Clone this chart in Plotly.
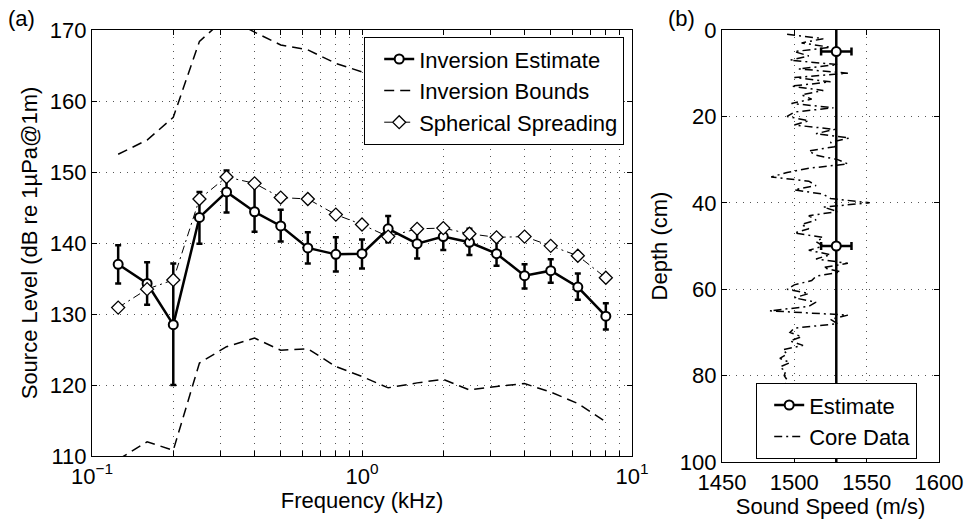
import plotly.graph_objects as go

# ---------------- data: panel (a) ----------------
freq_khz = [0.125, 0.16, 0.2, 0.25, 0.315, 0.4, 0.5, 0.63, 0.8, 1.0,
            1.25, 1.6, 2.0, 2.5, 3.15, 4.0, 5.0, 6.3, 8.0]
est_level = [137.0, 134.3, 128.5, 143.6, 147.2, 144.4, 142.4, 139.3, 138.4, 138.5,
             142.0, 139.9, 140.9, 140.1, 138.5, 135.4, 136.1, 133.8, 129.7]
est_upper = [139.7, 137.3, 137.1, 147.2, 150.2, 148.4, 144.7, 141.5, 140.8, 140.5,
             143.8, 142.0, 142.5, 142.0, 140.4, 137.0, 137.7, 135.7, 131.5]
est_lower = [134.3, 131.3, 120.0, 139.9, 144.3, 141.6, 140.2, 137.1, 136.0, 136.4,
             140.1, 137.8, 139.0, 138.3, 136.8, 133.6, 134.4, 132.0, 127.8]
spherical = [130.9, 133.5, 134.8, 146.2, 149.3, 148.4, 146.4, 146.2, 144.0, 142.6,
             140.9, 142.0, 142.1, 141.3, 140.8, 140.9, 139.6, 138.2, 135.1]
bound_upper = [152.5, 154.5, 157.7, 168.4, 171.8, 169.7, 167.9, 167.2, 165.3, 164.1,
               163.5, 163.0, 162.5, 161.8, 161.0, 160.0, 158.8, 157.5, 156.0]
bound_lower = [109.5, 112.0, 110.8, 123.1, 125.4, 126.6, 124.9, 125.1, 122.6, 121.2,
               119.6, 120.3, 120.8, 119.3, 119.8, 120.2, 119.0, 117.4, 114.8]

# ---------------- data: panel (b) ----------------
est_speed = 1529
est_speed_err = 10.5
est_line_depth = [0, 100]
est_marker_depth = [5, 50]
core_depth = list(range(1, 83))
core_speed = [1495, 1520, 1505, 1525, 1500, 1510, 1497, 1530, 1503, 1537,
              1500, 1525, 1498, 1520, 1505, 1512, 1498, 1527, 1500, 1495,
              1510, 1500, 1528, 1515, 1538, 1525, 1528, 1510, 1515, 1530,
              1537, 1510, 1495, 1484, 1510, 1515, 1500, 1520, 1525, 1552,
              1520, 1530, 1510, 1515, 1505, 1510, 1500, 1520, 1515, 1520,
              1510, 1525, 1515, 1537, 1520, 1532, 1515, 1512, 1500, 1495,
              1510, 1500, 1515, 1510, 1483, 1537, 1525, 1530, 1500, 1497,
              1505, 1497, 1506, 1492, 1495, 1490, 1497, 1490, 1494, 1493,
              1495, 1494]

FONT = "Liberation Sans, Arial, Helvetica, sans-serif"
FS = 22
BLK = "black"

fig = go.Figure()

err_plus = [u - v for u, v in zip(est_upper, est_level)]
err_minus = [v - l for v, l in zip(est_level, est_lower)]

fig.add_trace(go.Scatter(
    x=freq_khz, y=est_level, mode="lines+markers", name="Inversion Estimate",
    line=dict(color=BLK, width=2.5),
    marker=dict(symbol="circle", size=9, color="white", line=dict(color=BLK, width=2)),
    error_y=dict(type="data", symmetric=False, array=err_plus, arrayminus=err_minus,
                 color=BLK, thickness=2.5, width=3),
    xaxis="x", yaxis="y", legend="legend"))
fig.add_trace(go.Scatter(
    x=freq_khz, y=bound_upper, mode="lines", name="Inversion Bounds",
    line=dict(color=BLK, width=1.5, dash="10px,6px"),
    xaxis="x", yaxis="y", legend="legend"))
fig.add_trace(go.Scatter(
    x=freq_khz, y=bound_lower, mode="lines", name="Inversion Bounds", showlegend=False,
    line=dict(color=BLK, width=1.5, dash="10px,6px"),
    xaxis="x", yaxis="y"))
fig.add_trace(go.Scatter(
    x=freq_khz, y=spherical, mode="lines+markers", name="Spherical Spreading",
    line=dict(color=BLK, width=1, dash="8px,4px,2px,4px"),
    marker=dict(symbol="diamond", size=10, color="white", line=dict(color=BLK, width=1.3)),
    xaxis="x", yaxis="y", legend="legend"))

# panel (b)
fig.add_trace(go.Scatter(
    x=core_speed, y=core_depth, mode="lines", name="Core Data", showlegend=False,
    line=dict(color=BLK, width=1.5, dash="8px,4px,2px,4px"),
    xaxis="x2", yaxis="y2"))
fig.add_trace(go.Scatter(
    x=[est_speed] * len(est_line_depth), y=est_line_depth, mode="lines", showlegend=False,
    line=dict(color=BLK, width=2.5), xaxis="x2", yaxis="y2"))
fig.add_trace(go.Scatter(
    x=[est_speed] * len(est_marker_depth), y=est_marker_depth, mode="markers", showlegend=False,
    marker=dict(symbol="circle", size=9, color="white", line=dict(color=BLK, width=2)),
    error_x=dict(type="constant", value=est_speed_err, color=BLK, thickness=2.5, width=4),
    xaxis="x2", yaxis="y2"))
fig.add_trace(go.Scatter(
    x=[None], y=[None], mode="lines+markers", name="Estimate",
    line=dict(color=BLK, width=2.5),
    marker=dict(symbol="circle", size=9, color="white", line=dict(color=BLK, width=2)),
    xaxis="x2", yaxis="y2", legend="legend2"))
fig.add_trace(go.Scatter(
    x=[None], y=[None], mode="lines", name="Core Data",
    line=dict(color=BLK, width=1.5, dash="8px,4px,2px,4px"),
    xaxis="x2", yaxis="y2", legend="legend2"))

W, H = 967, 521
grid = dict(showgrid=True, gridcolor="#555", gridwidth=1, griddash="1px,6px")
axis_common = dict(showline=True, linecolor=BLK, linewidth=1.2, mirror="ticks",
                   ticks="inside", ticklen=5, tickcolor=BLK, zeroline=False,
                   automargin=False,
                   tickfont=dict(family=FONT, size=FS, color=BLK),
                   title_font=dict(family=FONT, size=FS, color=BLK))

x_tickvals = [0.1, 0.2, 0.3, 0.4, 0.5, 0.6, 0.7, 0.8, 0.9, 1,
              2, 3, 4, 5, 6, 7, 8, 9, 10]
x_ticktext = ["10<sup>−1</sup>"] + [""] * 8 + ["10<sup>0</sup>"] + [""] * 8 + ["10<sup>1</sup>"]

fig.update_layout(
    width=W, height=H, margin=dict(l=0, r=0, t=0, b=0, autoexpand=False),
    paper_bgcolor="white", plot_bgcolor="white",
    font=dict(family=FONT, size=FS, color=BLK),
    xaxis=dict(type="log", range=[-1, 1], domain=[92 / W, 632 / W],
               tickvals=x_tickvals, ticktext=x_ticktext,
               title=dict(text="Frequency (kHz)", standoff=2), anchor="y",
               **grid, **axis_common),
    yaxis=dict(range=[110, 170], domain=[1 - 456 / H, 1 - 30 / H], dtick=10,
               title=dict(text="Source Level (dB re 1µPa@1m)", standoff=6), anchor="x",
               **grid, **axis_common),
    xaxis2=dict(range=[1450, 1600], domain=[722 / W, 939 / W], dtick=50,
                title=dict(text="Sound Speed (m/s)", standoff=2), anchor="y2",
                **grid, **axis_common),
    yaxis2=dict(range=[100, 0], domain=[1 - 462 / H, 1 - 30 / H], dtick=20,
                title=dict(text="Depth (cm)", standoff=6), anchor="x2",
                **grid, **axis_common),
    legend=dict(x=624 / W, y=1 - 37 / H, xanchor="right", yanchor="top",
                bgcolor="white", bordercolor=BLK, borderwidth=1.2, indentation=14,
                font=dict(family=FONT, size=FS, color=BLK)),
    legend2=dict(x=917 / W, y=1 - 383 / H, xanchor="right", yanchor="top",
                 bgcolor="white", bordercolor=BLK, borderwidth=1.2, indentation=12,
                 font=dict(family=FONT, size=FS, color=BLK)),
    annotations=[
        dict(text="(a)", x=6 / W, y=1 - 4 / H, xref="paper", yref="paper",
             xanchor="left", yanchor="top", showarrow=False,
             font=dict(family=FONT, size=FS, color=BLK)),
        dict(text="(b)", x=666 / W, y=1 - 4 / H, xref="paper", yref="paper",
             xanchor="left", yanchor="top", showarrow=False,
             font=dict(family=FONT, size=FS, color=BLK)),
    ],
)

fig.write_html("out.html", config={"displayModeBar": False},
               post_script="document.body.style.margin='0';")
